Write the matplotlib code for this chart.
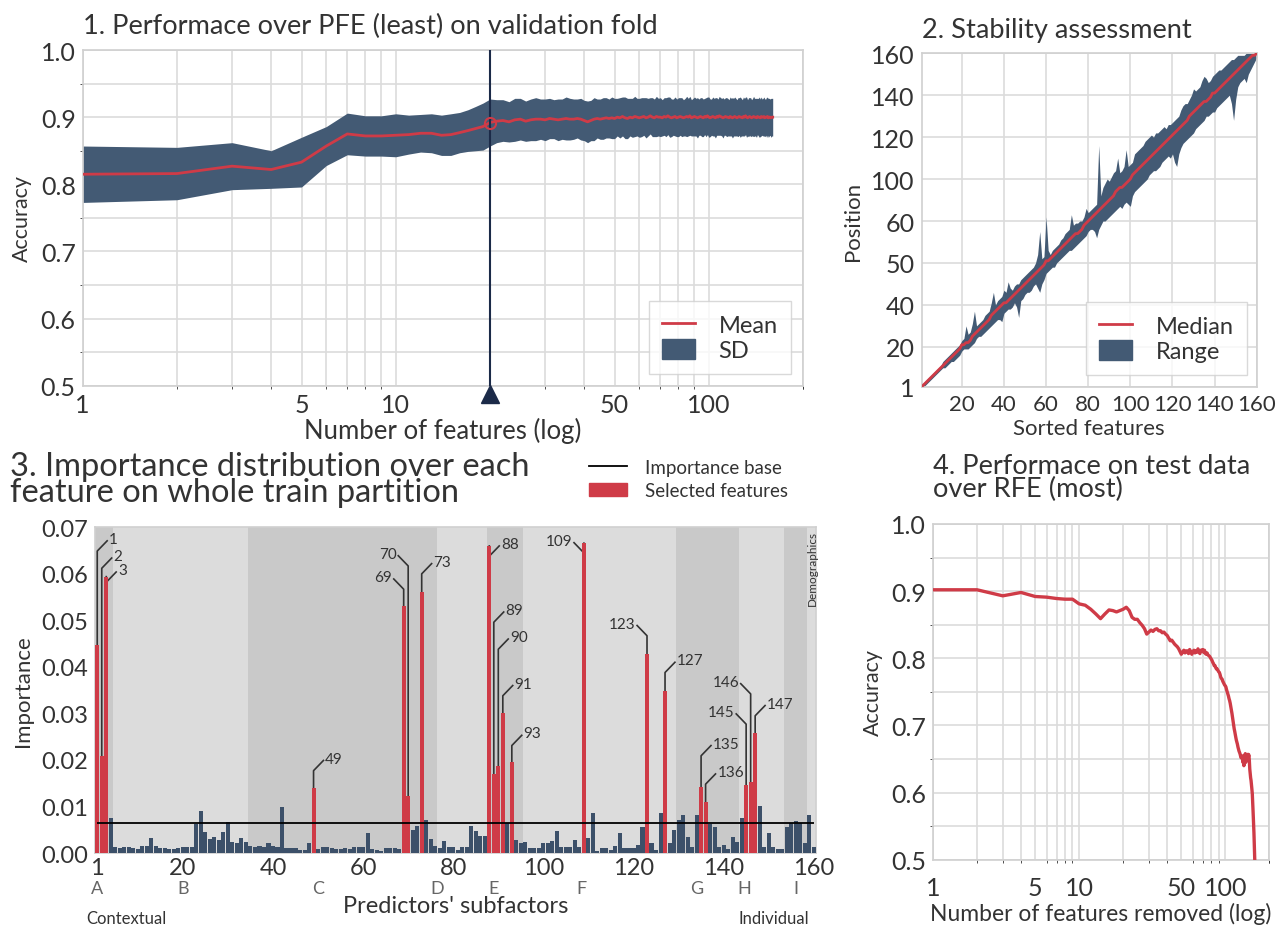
import matplotlib
matplotlib.use("Agg")
import matplotlib.pyplot as plt
import numpy as np
from matplotlib.lines import Line2D
from matplotlib.patches import Patch
from matplotlib.ticker import FixedLocator, NullFormatter, FormatStrFormatter

plt.rcParams['font.family'] = ['Lato', 'DejaVu Sans']
plt.rcParams['text.color'] = '#333333'
plt.rcParams['axes.labelcolor'] = '#333333'
plt.rcParams['xtick.color'] = '#333333'
plt.rcParams['ytick.color'] = '#333333'

RED = '#cf3b47'
BLUE = '#435a74'
BAR_BLUE = '#3c5069'
NAVY = '#1b2a48'
GRID = '#dcdcdc'

# ---- 1. performance over PFE (validation fold) ----
pfe_mean = [
    0.815, 0.816, 0.827, 0.822, 0.833, 0.857, 0.875, 0.872, 0.872, 0.873, 0.874, 0.876, 0.876, 0.873, 0.874, 0.877, 0.880, 0.883, 0.886, 0.892,
    0.894, 0.895, 0.893, 0.896, 0.897, 0.894, 0.896, 0.897, 0.897, 0.896, 0.898, 0.897, 0.896, 0.897, 0.898, 0.897, 0.897, 0.898, 0.897, 0.895,
    0.893, 0.895, 0.897, 0.898, 0.897, 0.898, 0.899, 0.898, 0.899, 0.898, 0.900, 0.899, 0.901, 0.899, 0.898, 0.900, 0.899, 0.901, 0.900, 0.899,
    0.900, 0.901, 0.899, 0.900, 0.902, 0.900, 0.899, 0.901, 0.900, 0.900, 0.899, 0.901, 0.900, 0.902, 0.900, 0.899, 0.900, 0.901, 0.899, 0.900,
    0.901, 0.900, 0.899, 0.900, 0.901, 0.900, 0.902, 0.899, 0.900, 0.901, 0.900, 0.899, 0.900, 0.901, 0.900, 0.899, 0.901, 0.900, 0.902, 0.900,
    0.899, 0.900, 0.901, 0.900, 0.899, 0.901, 0.900, 0.902, 0.901, 0.900, 0.899, 0.900, 0.901, 0.900, 0.900, 0.899, 0.901, 0.900, 0.899, 0.900,
    0.901, 0.900, 0.899, 0.900, 0.901, 0.900, 0.900, 0.899, 0.901, 0.900, 0.902, 0.900, 0.899, 0.900, 0.901, 0.900, 0.899, 0.900, 0.901, 0.900,
    0.900, 0.899, 0.901, 0.900, 0.900, 0.899, 0.901, 0.900, 0.900, 0.901, 0.899, 0.900, 0.900, 0.901, 0.899, 0.900, 0.900, 0.899, 0.900, 0.900,
]
pfe_sd = [
    0.042, 0.039, 0.035, 0.028, 0.037, 0.029, 0.031, 0.030, 0.030, 0.032, 0.029, 0.028, 0.029, 0.030, 0.031, 0.030, 0.031, 0.033, 0.035, 0.035,
    0.032, 0.031, 0.030, 0.032, 0.031, 0.030, 0.031, 0.032, 0.030, 0.031, 0.030, 0.029, 0.031, 0.030, 0.032, 0.031, 0.030, 0.029, 0.031, 0.030,
    0.031, 0.030, 0.032, 0.029, 0.030, 0.031, 0.030, 0.029, 0.031, 0.030, 0.028, 0.030, 0.029, 0.031, 0.030, 0.028, 0.029, 0.030, 0.028, 0.029,
    0.029, 0.028, 0.030, 0.028, 0.027, 0.029, 0.028, 0.030, 0.028, 0.029, 0.027, 0.028, 0.029, 0.028, 0.030, 0.028, 0.027, 0.029, 0.028, 0.029,
    0.028, 0.029, 0.027, 0.028, 0.030, 0.028, 0.029, 0.027, 0.028, 0.029, 0.028, 0.030, 0.027, 0.028, 0.029, 0.028, 0.027, 0.029, 0.028, 0.030,
    0.028, 0.027, 0.029, 0.028, 0.030, 0.028, 0.027, 0.029, 0.028, 0.028, 0.030, 0.027, 0.028, 0.029, 0.028, 0.027, 0.029, 0.028, 0.030, 0.028,
    0.029, 0.028, 0.027, 0.029, 0.028, 0.030, 0.028, 0.027, 0.029, 0.028, 0.028, 0.030, 0.027, 0.029, 0.028, 0.029, 0.027, 0.028, 0.030, 0.028,
    0.028, 0.029, 0.027, 0.028, 0.030, 0.028, 0.029, 0.027, 0.028, 0.029, 0.028, 0.027, 0.030, 0.028, 0.029, 0.028, 0.027, 0.029, 0.028, 0.028,
]
n_features = np.arange(1, len(pfe_mean) + 1)
best_n = 20

# ---- 2. stability: rank of each sorted feature ----
rank_median = [
    1, 2, 3, 4, 5, 6, 7, 8, 9, 10, 11, 12, 13, 14, 15, 16, 17, 18, 19, 21,
    21, 22, 22, 23, 25, 26, 27, 28, 29, 30, 31, 32, 33, 35, 36, 37, 38, 39, 40, 41,
    41, 42, 43, 44, 45, 46, 47, 48, 49, 50, 51, 52, 53, 54, 55, 56, 57, 58, 59, 61,
    61, 62, 63, 64, 65, 66, 67, 68, 69, 70, 71, 72, 73, 74, 74, 75, 76, 78, 79, 80,
    81, 82, 83, 84, 85, 86, 87, 88, 89, 90, 91, 92, 94, 95, 96, 96, 97, 98, 99, 100,
    102, 103, 104, 105, 106, 107, 108, 109, 110, 111, 112, 113, 114, 115, 116, 117, 118, 119, 120, 121,
    122, 123, 124, 125, 126, 127, 128, 130, 131, 132, 133, 134, 135, 136, 137, 137, 138, 139, 141, 141,
    142, 143, 144, 145, 146, 147, 148, 149, 150, 151, 152, 153, 154, 155, 156, 157, 158, 159, 159, 160,
]
rank_low = [
    1, 1, 2, 3, 4, 5, 6, 7, 8, 9, 10, 10, 11, 12, 13, 13, 14, 15, 16, 18,
    19, 19, 19, 20, 21, 22, 24, 25, 25, 26, 27, 28, 29, 30, 31, 32, 33, 33, 32, 36,
    37, 38, 38, 39, 41, 39, 34, 42, 43, 45, 46, 46, 47, 49, 50, 48, 46, 50, 52, 55,
    56, 57, 58, 58, 60, 61, 62, 63, 64, 65, 66, 66, 67, 68, 69, 70, 71, 72, 73, 75,
    76, 76, 75, 72, 76, 78, 80, 80, 81, 82, 83, 84, 85, 86, 87, 86, 88, 89, 88, 87,
    92, 94, 95, 96, 97, 98, 99, 100, 102, 103, 104, 104, 105, 106, 108, 109, 110, 111, 110, 112,
    108, 106, 112, 115, 117, 118, 119, 120, 121, 122, 124, 125, 126, 127, 128, 130, 130, 131, 132, 132,
    134, 135, 136, 137, 138, 139, 140, 136, 128, 138, 144, 146, 147, 148, 146, 150, 152, 154, 156, 158,
]
rank_high = [
    2, 3, 4, 5, 6, 7, 8, 9, 10, 11, 13, 14, 15, 16, 17, 18, 19, 20, 21, 23,
    24, 30, 26, 27, 31, 37, 30, 31, 32, 33, 35, 36, 37, 41, 46, 40, 42, 43, 44, 47,
    46, 51, 48, 47, 49, 50, 50, 52, 53, 54, 55, 56, 57, 58, 60, 64, 75, 62, 63, 82,
    66, 64, 66, 67, 68, 69, 71, 72, 74, 75, 76, 83, 78, 79, 79, 80, 80, 82, 86, 84,
    85, 86, 87, 88, 116, 92, 96, 98, 100, 99, 101, 103, 104, 110, 103, 104, 106, 114, 106, 107,
    108, 112, 113, 114, 115, 116, 118, 119, 120, 121, 120, 122, 122, 123, 124, 125, 124, 126, 126, 127,
    128, 129, 130, 133, 135, 136, 136, 138, 140, 143, 142, 143, 144, 147, 149, 148, 146, 147, 149, 150,
    151, 152, 152, 153, 154, 155, 156, 157, 157, 158, 159, 159, 159, 159, 160, 160, 160, 160, 160, 160,
]
sorted_features = np.arange(1, len(rank_median) + 1)
rank_ticks = [1, 20, 40, 60, 80, 100, 120, 140, 160]
rank_ticklabels = ['1', '20', '40', '50', '60', '100', '120', '140', '160']

# ---- 3. importance per feature ----
importance = [
    0.0448, 0.0209, 0.0594, 0.0075, 0.0012, 0.0011, 0.0012, 0.0012, 0.0011, 0.0009,
    0.0016, 0.0016, 0.0032, 0.0016, 0.0011, 0.0011, 0.0008, 0.0008, 0.0010, 0.0014,
    0.0012, 0.0012, 0.0062, 0.0090, 0.0046, 0.0030, 0.0035, 0.0029, 0.0046, 0.0066,
    0.0024, 0.0021, 0.0032, 0.0024, 0.0016, 0.0014, 0.0016, 0.0013, 0.0021, 0.0016,
    0.0012, 0.0098, 0.0011, 0.0011, 0.0011, 0.0007, 0.0007, 0.0021, 0.0139, 0.0009,
    0.0013, 0.0013, 0.0010, 0.0009, 0.0008, 0.0010, 0.0009, 0.0012, 0.0014, 0.0012,
    0.0042, 0.0009, 0.0007, 0.0005, 0.0010, 0.0010, 0.0010, 0.0009, 0.0530, 0.0123,
    0.0050, 0.0059, 0.0562, 0.0072, 0.0030, 0.0016, 0.0010, 0.0025, 0.0012, 0.0012,
    0.0006, 0.0014, 0.0012, 0.0059, 0.0047, 0.0037, 0.0036, 0.0660, 0.0170, 0.0186,
    0.0301, 0.0064, 0.0196, 0.0029, 0.0021, 0.0024, 0.0010, 0.0010, 0.0010, 0.0021,
    0.0021, 0.0025, 0.0047, 0.0012, 0.0012, 0.0012, 0.0028, 0.0012, 0.0666, 0.0032,
    0.0086, 0.0004, 0.0010, 0.0010, 0.0006, 0.0016, 0.0042, 0.0010, 0.0011, 0.0011,
    0.0017, 0.0057, 0.0428, 0.0021, 0.0007, 0.0086, 0.0349, 0.0021, 0.0050, 0.0071,
    0.0082, 0.0034, 0.0014, 0.0082, 0.0141, 0.0110, 0.0062, 0.0057, 0.0012, 0.0017,
    0.0009, 0.0034, 0.0023, 0.0075, 0.0147, 0.0152, 0.0259, 0.0102, 0.0014, 0.0043,
    0.0014, 0.0009, 0.0009, 0.0057, 0.0064, 0.0069, 0.0064, 0.0021, 0.0082, 0.0012,
]
features = np.arange(1, len(importance) + 1)
importance_base = 0.0065
selected = [1, 2, 3, 49, 69, 70, 73, 88, 89, 90, 91, 93, 109, 123, 127, 135, 136, 145, 146, 147]
# label leader: height of the elbow and side of the label
leader_elbow = [0.0649, 0.0612, 0.0582, 0.0177, 0.0567, 0.0617, 0.0600, 0.0638, 0.0496, 0.0438,
                0.0338, 0.0231, 0.0645, 0.0467, 0.0388, 0.0209, 0.0148, 0.0277, 0.0342, 0.0295]
leader_side = [1, 1, 1, 1, -1, -1, 1, 1, 1, 1, 1, 1, -1, -1, 1, 1, 1, -1, -1, 1]
subfactor_edges = [0.5, 4.5, 34.5, 76.5, 87.5, 95.5, 129.5, 143.5, 153.5, 158.5, 160.5]
subfactor_letters = ['A', 'B', 'C', 'D', 'E', 'F', 'G', 'H', 'I']
letter_pos = [1, 20, 50, 76.5, 89, 108.5, 134, 144.5, 156]

# ---- 4. performance over RFE on test data ----
rfe_acc = [
    0.902, 0.902, 0.893, 0.898, 0.892, 0.891, 0.889, 0.888, 0.888, 0.881,
    0.879, 0.873, 0.866, 0.859, 0.866, 0.872, 0.871, 0.869, 0.871, 0.873,
    0.876, 0.871, 0.861, 0.858, 0.858, 0.853, 0.849, 0.844, 0.836, 0.839,
    0.842, 0.840, 0.843, 0.844, 0.841, 0.841, 0.838, 0.839, 0.836, 0.834,
    0.830, 0.826, 0.827, 0.824, 0.821, 0.819, 0.817, 0.814, 0.810, 0.806,
    0.809, 0.812, 0.808, 0.811, 0.811, 0.807, 0.813, 0.810, 0.806, 0.810,
    0.812, 0.808, 0.811, 0.809, 0.814, 0.810, 0.807, 0.812, 0.811, 0.813,
    0.809, 0.812, 0.807, 0.806, 0.808, 0.805, 0.804, 0.803, 0.801, 0.799,
    0.797, 0.794, 0.792, 0.789, 0.789, 0.786, 0.784, 0.784, 0.782, 0.780,
    0.779, 0.776, 0.772, 0.770, 0.769, 0.766, 0.764, 0.762, 0.760, 0.759,
    0.757, 0.753, 0.750, 0.747, 0.744, 0.740, 0.737, 0.733, 0.728, 0.724,
    0.718, 0.712, 0.706, 0.700, 0.695, 0.691, 0.686, 0.682, 0.678, 0.675,
    0.672, 0.668, 0.665, 0.662, 0.660, 0.658, 0.655, 0.652, 0.654, 0.652,
    0.650, 0.645, 0.655, 0.640, 0.647, 0.652, 0.658, 0.645, 0.650, 0.652,
    0.648, 0.655, 0.657, 0.654, 0.656, 0.648, 0.635, 0.628, 0.622, 0.618,
    0.612, 0.605, 0.598, 0.585, 0.570, 0.555, 0.540, 0.520, 0.500,
]
n_removed = np.arange(1, len(rfe_acc) + 1)

TICK_FS = 18
TITLE_FS = 19.6


def style_axes(ax, fs=TICK_FS):
    for s in ax.spines.values():
        s.set_color('#d0d0d0')
        s.set_linewidth(1.2)
    ax.tick_params(length=0, labelsize=fs, pad=5)


def log_accuracy_axes(ax):
    ax.set_xscale('log')
    ax.set_xlim(1, 200)
    ax.set_ylim(0.5, 1.0)
    ax.xaxis.set_major_locator(FixedLocator([1, 5, 10, 50, 100]))
    ax.xaxis.set_major_formatter(FormatStrFormatter('%d'))
    minor = [v * d for d in (1, 10, 100) for v in range(1, 10) if v * d <= 200] + [200]
    ax.xaxis.set_minor_locator(FixedLocator(minor))
    ax.xaxis.set_minor_formatter(NullFormatter())
    ax.yaxis.set_major_locator(FixedLocator(np.arange(0.5, 1.01, 0.1)))
    ax.yaxis.set_major_formatter(FormatStrFormatter('%.1f'))
    ax.yaxis.set_minor_locator(FixedLocator(np.arange(0.55, 1.0, 0.1)))
    ax.grid(which='both', color=GRID, lw=1.2)
    ax.set_axisbelow(True)
    style_axes(ax)


def framed_legend(ax, labels, anchor):
    ax.legend([Line2D([], [], color=RED, lw=2), Patch(color=BLUE)], labels,
              loc='lower right', bbox_to_anchor=anchor, fontsize=17, frameon=True,
              fancybox=False, edgecolor='#d0d0d0', handlelength=1.4, handleheight=0.9,
              handletextpad=1.0, borderpad=0.55, labelspacing=0.15, borderaxespad=0)


fig = plt.figure(figsize=(12.82, 9.29), dpi=100)

# panel 1
ax1 = fig.add_axes([0.0645, 0.5837, 0.5619, 0.3614])
log_accuracy_axes(ax1)
m = np.array(pfe_mean)
sd = np.array(pfe_sd)
ax1.fill_between(n_features, m - sd, m + sd, color=BLUE, lw=0, zorder=2)
ax1.plot(n_features, m, color=RED, lw=2, zorder=3)
ax1.axvline(best_n, color=NAVY, lw=1.5, zorder=4)
ax1.plot(best_n, m[best_n - 1], 'o', mfc='none', mec=RED, mew=1.5, ms=8, zorder=5)
ax1.plot(best_n, -0.025, '^', color=NAVY, ms=13, clip_on=False,
         transform=ax1.get_xaxis_transform(), zorder=6)
ax1.set_title('1. Performace over PFE (least) on validation fold', loc='left',
              fontsize=TITLE_FS, pad=12)
ax1.set_xlabel('Number of features (log)', fontsize=18.5, labelpad=1)
ax1.set_ylabel('Accuracy', fontsize=15.5, labelpad=6)
framed_legend(ax1, ['Mean', 'SD'], (0.983, 0.035))

# panel 2
ax2 = fig.add_axes([0.719, 0.5827, 0.2613, 0.3589])
ax2.fill_between(sorted_features, rank_low, rank_high, color=BLUE, lw=0, zorder=2)
ax2.plot(sorted_features, rank_median, color=RED, lw=2, zorder=3)
ax2.set_xlim(1, 160)
ax2.set_ylim(1, 160)
ax2.set_xticks(np.arange(20, 161, 20))
ax2.set_yticks(rank_ticks)
ax2.set_yticklabels(rank_ticklabels)
ax2.grid(color=GRID, lw=1.2)
ax2.set_axisbelow(True)
style_axes(ax2)
ax2.tick_params(axis='x', labelsize=16)
ax2.set_title('2. Stability assessment', loc='left', fontsize=TITLE_FS, pad=12)
ax2.set_xlabel('Sorted features', fontsize=16, labelpad=3)
ax2.set_ylabel('Position', fontsize=16, labelpad=6)
framed_legend(ax2, ['Median', 'Range'], (0.97, 0.035))

# panel 3
ax3 = fig.add_axes([0.0741, 0.0807, 0.5624, 0.3506])
for i in range(len(subfactor_edges) - 1):
    shade = '#c9c9c9' if i % 2 == 0 else '#dcdcdc'
    ax3.axvspan(subfactor_edges[i], subfactor_edges[i + 1], color=shade, lw=0, zorder=0)
bar_colors = [RED if f in selected else BAR_BLUE for f in features]
ax3.bar(features, importance, width=0.9, color=bar_colors, lw=0, zorder=3)
ax3.hlines(importance_base, 1, 160, color='black', lw=1.3, zorder=4)
ax3.set_xlim(0.5, 160.5)
ax3.set_ylim(0, 0.07)
ax3.set_xticks([1] + list(range(20, 161, 20)))
ax3.set_yticks(np.arange(0, 0.071, 0.01))
ax3.yaxis.set_major_formatter(FormatStrFormatter('%.2f'))
style_axes(ax3, fs=17)
ax3.tick_params(axis='x', pad=3)
ax3.set_ylabel('Importance', fontsize=16, labelpad=6)

dx, dy = 2.2, 0.0022
for f, elbow, side in zip(selected, leader_elbow, leader_side):
    top = importance[f - 1]
    ex, ey = f + side * dx, elbow + dy
    ax3.plot([f, f, ex], [top, elbow, ey], color='#333333', lw=1.2, zorder=2)
    ax3.text(ex + side * 0.4, ey + 0.0004, str(f), ha='left' if side > 0 else 'right',
             va='center', fontsize=11, zorder=5)

ax3.text(159.6, 0.0695, 'Demographics', rotation=90, ha='center', va='top', fontsize=8.5, zorder=5)

trans = ax3.get_xaxis_transform()
for letter, pos in zip(subfactor_letters, letter_pos):
    ax3.text(pos, -0.106, letter, transform=trans, ha='center', va='center',
             fontsize=13, color='#666666')
ax3.text(0.5, -0.162, "Predictors' subfactors", transform=ax3.transAxes, ha='center',
         va='center', fontsize=17)
ax3.text(-0.012, -0.2, 'Contextual', transform=ax3.transAxes, ha='left', va='center',
         fontsize=12)
ax3.text(0.99, -0.2, 'Individual', transform=ax3.transAxes, ha='right', va='center',
         fontsize=12)
fig.text(0.008, 0.483, '3. Importance distribution over each\nfeature on whole train partition',
         ha='left', va='center', fontsize=23.5, linespacing=0.82)
ax3.legend([Line2D([], [], color='black', lw=1.3), Patch(color=RED)],
           ['Importance base', 'Selected features'], loc='upper right',
           bbox_to_anchor=(0.985, 1.262), fontsize=13.5, frameon=False, handlelength=2.0,
           handletextpad=1.0, labelspacing=0.35)

# panel 4
ax4 = fig.add_axes([0.7278, 0.0735, 0.2623, 0.3614])
log_accuracy_axes(ax4)
ax4.tick_params(axis='x', pad=12)
ax4.plot(n_removed, rfe_acc, color=RED, lw=2.4, zorder=3)
ax4.set_title('4. Performace on test data\nover RFE (most)', loc='left', fontsize=TITLE_FS,
              pad=20, linespacing=0.92)
ax4.set_xlabel('Number of features removed (log)', fontsize=16.5, labelpad=2)
ax4.set_ylabel('Accuracy', fontsize=15.5, labelpad=6)

fig.savefig('out.png', dpi=100)
